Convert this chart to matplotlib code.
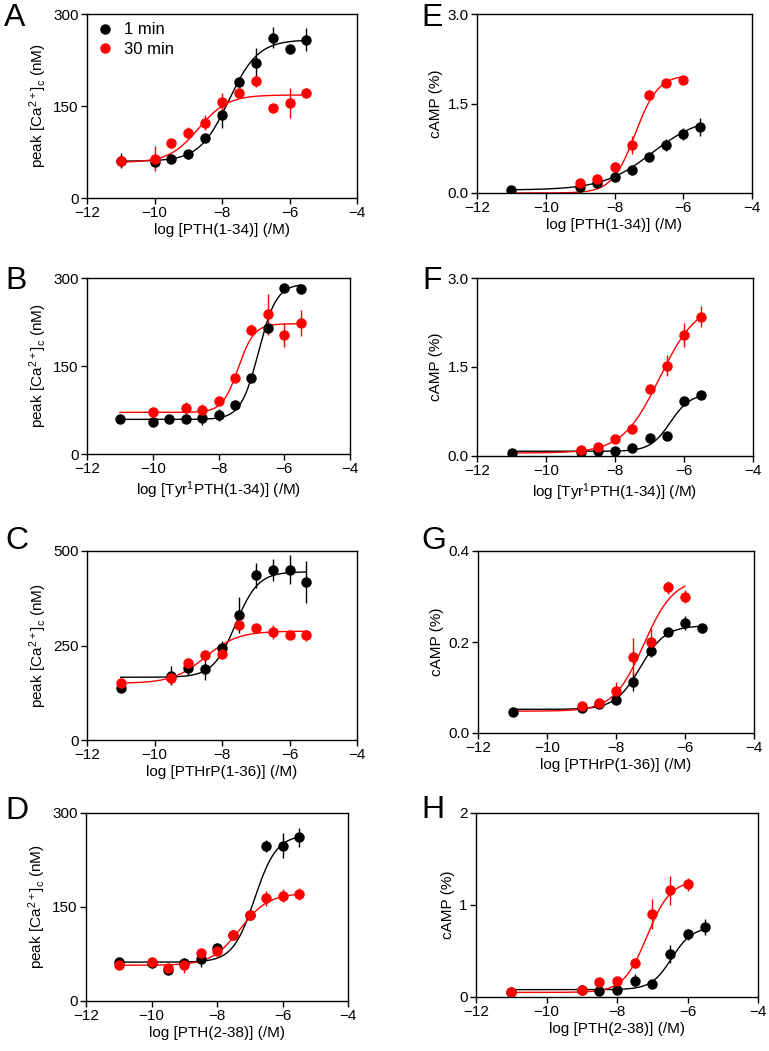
import numpy as np
import matplotlib
matplotlib.use('Agg')
import matplotlib.pyplot as plt
from matplotlib.lines import Line2D

plt.rcParams['font.family'] = ['Liberation Sans', 'DejaVu Sans']
plt.rcParams['mathtext.default'] = 'regular'

# doses (log M)
dose_full = [-11, -10, -9.5, -9, -8.5, -8, -7.5, -7, -6.5, -6, -5.5]
dose_camp = [-11, -9, -8.5, -8, -7.5, -7, -6.5, -6, -5.5]

# A: PTH(1-34), Ca
a_1min = [61, 58, 64, 71, 98, 135, 189, 220, 261, 243, 258]
a_1min_err = [12, 5, 3, 7, 5, 21, 8, 24, 17, 7, 19]
a_30min = [60, 64, 89, 106, 123, 156, 172, 191, 146, 155, 172]
a_30min_err = [4, 20, 8, 10, 12, 15, 7, 10, 7, 24, 7]

# B: Tyr1PTH(1-34), Ca
b_1min = [60, 54, 59, 59, 61, 66, 84, 129, 215, 283, 282]
b_1min_err = [6, 3, 5, 6, 12, 10, 4, 6, 8, 6, 5]
b_dose_30 = [-10, -9, -8.5, -8, -7.5, -7, -6.5, -6, -5.5]
b_30min = [72, 79, 75, 91, 130, 212, 238, 203, 223]
b_30min_err = [6, 10, 10, 8, 5, 10, 35, 20, 22]

# C: PTHrP(1-36), Ca
c_dose = [-11, -9.5, -9, -8.5, -8, -7.5, -7, -6.5, -6, -5.5]
c_1min = [138, 170, 190, 187, 244, 330, 436, 450, 451, 418]
c_1min_err = [12, 25, 18, 28, 17, 48, 33, 30, 38, 55]
c_30min = [152, 163, 203, 224, 228, 303, 296, 286, 277, 277]
c_30min_err = [5, 15, 15, 15, 5, 6, 12, 18, 10, 14]

# D: PTH(2-38), Ca
d_1min = [62, 61, 49, 60, 67, 85, 105, 137, 247, 248, 261]
d_1min_err = [5, 8, 4, 8, 12, 8, 6, 6, 10, 20, 15]
d_30min = [57, 62, 52, 57, 77, 80, 105, 137, 164, 168, 171]
d_30min_err = [4, 5, 4, 12, 6, 6, 6, 6, 12, 10, 10]

# E: PTH(1-34), cAMP
e_1min = [0.045, 0.10, 0.17, 0.27, 0.38, 0.60, 0.80, 0.99, 1.11]
e_1min_err = [0.02, 0.03, 0.03, 0.03, 0.03, 0.03, 0.10, 0.10, 0.15]
e_dose_30 = [-9, -8.5, -8, -7.5, -7, -6.5, -6]
e_30min = [0.16, 0.24, 0.44, 0.80, 1.64, 1.85, 1.90]
e_30min_err = [0.03, 0.03, 0.08, 0.15, 0.08, 0.03, 0.03]

# F: Tyr1PTH(1-34), cAMP
f_1min = [0.05, 0.067, 0.08, 0.08, 0.13, 0.30, 0.33, 0.92, 1.03]
f_1min_err = [0.02, 0.02, 0.02, 0.02, 0.03, 0.07, 0.03, 0.03, 0.03]
f_dose_30 = [-9, -8.5, -8, -7.5, -7, -6.5, -6, -5.5]
f_30min = [0.095, 0.16, 0.29, 0.45, 1.13, 1.52, 2.04, 2.35]
f_30min_err = [0.02, 0.03, 0.03, 0.03, 0.04, 0.18, 0.20, 0.17]

# G: PTHrP(1-36), cAMP
g_1min = [0.047, 0.055, 0.064, 0.072, 0.113, 0.181, 0.221, 0.242, 0.23]
g_1min_err = [0.003, 0.004, 0.005, 0.004, 0.02, 0.015, 0.006, 0.015, 0.01]
g_dose_30 = [-9, -8.5, -8, -7.5, -7, -6.5, -6]
g_30min = [0.06, 0.066, 0.092, 0.168, 0.20, 0.32, 0.30]
g_30min_err = [0.004, 0.005, 0.02, 0.04, 0.03, 0.015, 0.015]

# H: PTH(2-38), cAMP
h_1min = [0.055, 0.08, 0.065, 0.073, 0.175, 0.145, 0.47, 0.68, 0.76]
h_1min_err = [0.01, 0.02, 0.02, 0.02, 0.07, 0.02, 0.10, 0.06, 0.09]
h_dose_30 = [-11, -9, -8.5, -8, -7.5, -7, -6.5, -6]
h_30min = [0.055, 0.08, 0.164, 0.175, 0.37, 0.90, 1.16, 1.225]
h_30min_err = [0.01, 0.02, 0.02, 0.02, 0.05, 0.16, 0.16, 0.07]

# sigmoid fits: bottom, top, logEC50, hill, x end
fit_a = [(60, 258, -7.8, 1.0, -5.5), (58, 168, -8.7, 1.0, -5.5)]
fit_b = [(59, 290, -6.78, 1.6, -5.5), (71, 222, -7.4, 1.8, -5.5)]
fit_c = [(166, 445, -7.6, 1.3, -5.5), (150, 288, -8.5, 0.9, -5.5)]
fit_d = [(62, 265, -6.85, 1.3, -5.5), (57, 172, -7.3, 1.0, -5.5)]
fit_e = [(0.05, 1.3, -6.9, 0.6, -5.5), (0.0, 1.98, -7.4, 1.3, -6.0)]
fit_f = [(0.08, 1.05, -6.4, 1.5, -5.5), (0.05, 2.6, -6.7, 0.8, -5.5)]
fit_g = [(0.052, 0.236, -7.3, 1.2, -5.5), (0.048, 0.34, -7.2, 1.0, -6.0)]
fit_h = [(0.08, 0.76, -6.45, 1.5, -5.5), (0.05, 1.27, -7.15, 1.3, -6.0)]

ca_label = 'peak [Ca$^{2+}$]$_c$ (nM)'
camp_label = 'cAMP (%)'

W, H = 769, 1051
fig = plt.figure(figsize=(W / 100, H / 100), dpi=100)


def sigmoid(x, bottom, top, ec, hill):
    return bottom + (top - bottom) / (1 + 10 ** ((ec - x) * hill))


def panel(box, letter, s1, s30, fits, yticks, ylabel, xlabel, letter_pos):
    x0, x1, y0, y1 = box
    ax = fig.add_axes([x0 / W, 1 - y1 / H, (x1 - x0) / W, (y1 - y0) / H])
    for (xs, ys, es), fit, col in zip([s1, s30], fits, ['black', '#ff0000']):
        bottom, top, ec, hill, xend = fit
        xx = np.linspace(-11, xend, 200)
        ax.plot(xx, sigmoid(xx, bottom, top, ec, hill), color=col, lw=1.0)
        ax.errorbar(xs, ys, yerr=es, fmt='o', color=col, ms=6.5, elinewidth=1.0, capsize=0)
    ax.set_xlim(-12, -4)
    ax.set_ylim(yticks[0], yticks[-1])
    ax.set_xticks([-12, -10, -8, -6, -4])
    ax.set_yticks(yticks)
    ax.tick_params(direction='out', length=4, width=1, labelsize=11, pad=2)
    ax.set_xlabel(xlabel, fontsize=11, labelpad=2)
    ax.set_ylabel(ylabel, fontsize=11, labelpad=3)
    for sp in ax.spines.values():
        sp.set_linewidth(1.0)
    fig.text(letter_pos[0] / W, 1 - letter_pos[1] / H, letter, fontsize=23, va='top', ha='left')
    return ax


ax = panel((87, 357, 14, 198), 'A', (dose_full, a_1min, a_1min_err), (dose_full, a_30min, a_30min_err),
           fit_a, [0, 150, 300], ca_label, 'log [PTH(1-34)] (/M)', (4, 3))
handles = [Line2D([], [], ls='none', marker='o', ms=6.5, color='black'),
           Line2D([], [], ls='none', marker='o', ms=6.5, color='#ff0000')]
ax.legend(handles, ['1 min', '30 min'], loc='upper left', frameon=False, fontsize=12,
          handletextpad=0.5, borderaxespad=0.1, labelspacing=0.25, handlelength=1.2)

panel((87, 350, 278, 454), 'B', (dose_full, b_1min, b_1min_err), (b_dose_30, b_30min, b_30min_err),
      fit_b, [0, 150, 300], ca_label, 'log [Tyr$^1$PTH(1-34)] (/M)', (5, 266))
panel((87, 357, 551, 740), 'C', (c_dose, c_1min, c_1min_err), (c_dose, c_30min, c_30min_err),
      fit_c, [0, 250, 500], ca_label, 'log [PTHrP(1-36)] (/M)', (5, 526))
panel((86, 348, 813, 1001), 'D', (dose_full, d_1min, d_1min_err), (dose_full, d_30min, d_30min_err),
      fit_d, [0, 150, 300], ca_label, 'log [PTH(2-38)] (/M)', (5, 796))

panel((477, 752, 14, 193), 'E', (dose_camp, e_1min, e_1min_err), (e_dose_30, e_30min, e_30min_err),
      fit_e, [0, 1.5, 3.0], camp_label, 'log [PTH(1-34)] (/M)', (421, 3))
panel((477, 753, 278, 456), 'F', (dose_camp, f_1min, f_1min_err), (f_dose_30, f_30min, f_30min_err),
      fit_f, [0, 1.5, 3.0], camp_label, 'log [Tyr$^1$PTH(1-34)] (/M)', (422, 266))
panel((478, 754, 551, 733), 'G', (dose_camp, g_1min, g_1min_err), (g_dose_30, g_30min, g_30min_err),
      fit_g, [0, 0.2, 0.4], camp_label, 'log [PTHrP(1-36)] (/M)', (421, 526))
panel((476, 758, 813, 997), 'H', (dose_camp, h_1min, h_1min_err), (h_dose_30, h_30min, h_30min_err),
      fit_h, [0, 1, 2], camp_label, 'log [PTH(2-38)] (/M)', (421, 795))

for a in fig.axes:
    yt = a.get_yticks()
    if a.get_ylim()[1] in (3.0, 0.4):
        a.set_yticklabels(['%.1f' % v for v in yt])

fig.savefig('out.png', dpi=100)
